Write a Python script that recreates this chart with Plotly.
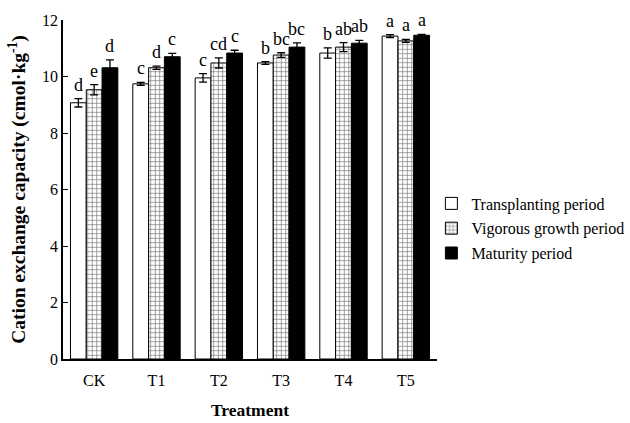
import plotly.graph_objects as go

categories = ["CK", "T1", "T2", "T3", "T4", "T5"]
series_names = ["Transplanting period", "Vigorous growth period", "Maturity period"]

transplanting = [9.07, 9.74, 9.95, 10.48, 10.83, 11.43]
transplanting_err = [0.15, 0.05, 0.15, 0.05, 0.18, 0.05]
vigorous = [9.53, 10.31, 10.48, 10.76, 11.04, 11.26]
vigorous_err = [0.18, 0.06, 0.18, 0.08, 0.16, 0.05]
maturity = [10.31, 10.70, 10.83, 11.04, 11.18, 11.46]
maturity_err = [0.28, 0.12, 0.1, 0.15, 0.1, 0.03]

letters_transplanting = ["d", "c", "c", "b", "b", "a"]
letters_vigorous = ["e", "d", "cd", "bc", "ab", "a"]
letters_maturity = ["d", "c", "c", "bc", "ab", "a"]

y_ticks = [0, 2, 4, 6, 8, 10, 12]

font_family = "Liberation Serif"

fig = go.Figure()

styles = [
    dict(color="white", pattern=None),
    dict(color="white", pattern=dict(shape="+", fgcolor="black", bgcolor="white", size=4.5, solidity=0.3)),
    dict(color="black", pattern=None),
]
vals = [transplanting, vigorous, maturity]
errs = [transplanting_err, vigorous_err, maturity_err]
letters = [letters_transplanting, letters_vigorous, letters_maturity]

for name, v, e, st in zip(series_names, vals, errs, styles):
    marker = dict(color=st["color"], line=dict(color="black", width=1))
    if st["pattern"]:
        marker["pattern"] = st["pattern"]
    fig.add_trace(go.Bar(
        x=categories, y=v, name=name, marker=marker, legendgroup=name,
        error_y=dict(type="data", array=e, visible=True, color="black", thickness=1.3, width=4),
    ))

# significance letters
bar_px = 15.8
offsets = [-bar_px, 0, bar_px]
for i, (v, e, l) in enumerate(zip(vals, errs, letters)):
    for c, val, er, lt in zip(categories, v, e, l):
        fig.add_annotation(
            x=c, y=val + er, text=lt, showarrow=False,
            xshift=offsets[i], yshift=2, yanchor="bottom",
            font=dict(family=font_family, size=18, color="black"),
        )

fig.update_layout(
    width=630, height=423,
    margin=dict(l=63, r=193, t=20, b=64, autoexpand=False),
    paper_bgcolor="white", plot_bgcolor="white",
    barmode="group", bargap=0.24, bargroupgap=0,
    font=dict(family=font_family, size=16, color="black"),
    showlegend=True,
    legend=dict(
        x=0.985, y=0.385, xanchor="left", yanchor="middle",
        font=dict(family=font_family, size=16, color="black"),
        bgcolor="rgba(0,0,0,0)", tracegroupgap=1, itemwidth=30,
    ),
    xaxis=dict(
        showline=True, linecolor="black", linewidth=1.5, mirror=False,
        ticks="", showgrid=False, automargin=False, ticklabelstandoff=6,
        tickfont=dict(family=font_family, size=16),
        title=dict(text="<b>Treatment</b>", font=dict(family=font_family, size=17.5), standoff=16),
    ),
    yaxis=dict(
        range=[0, 12], tickvals=y_ticks, automargin=False,
        showline=True, linecolor="black", linewidth=1.5,
        ticks="inside", ticklen=5, tickcolor="black", showgrid=False, zeroline=False,
        tickfont=dict(family=font_family, size=16),
        title=dict(text="<b>Cation exchange capacity (cmol·kg<sup>-1</sup>)</b>",
                   font=dict(family=font_family, size=19.5), standoff=11),
    ),
)

fig.write_html("out.html", config={"displayModeBar": False},
               post_script="document.body.style.margin='0';")
